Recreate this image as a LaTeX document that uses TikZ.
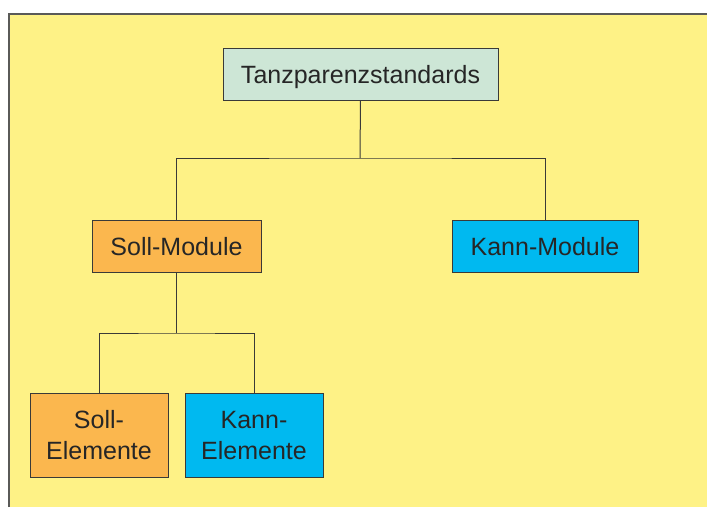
\documentclass[tikz,border=0pt]{standalone}
\usepackage{fontspec}
\setmainfont{Liberation Sans}
\definecolor{bgyellow}{HTML}{FEF286}
\definecolor{framegray}{HTML}{5A5A58}
\definecolor{rootgreen}{HTML}{CDE6D6}
\definecolor{sollorange}{HTML}{FBB74E}
\definecolor{kanncyan}{HTML}{00B9F0}
\definecolor{linegray}{HTML}{3A3A38}
\begin{document}
\begin{tikzpicture}[x=1pt,y=-1pt,
  box/.style={draw=linegray,line width=1pt,rectangle,inner sep=0pt,align=center,
    font=\fontsize{25}{31}\selectfont,text=black!85},
  conn/.style={draw=linegray,line width=1pt}]
\useasboundingbox (0,0) rectangle (707,507);
\fill[bgyellow] (9,14) rectangle (707,507);
\draw[framegray,line width=1.6pt] (9,507) -- (9,14) -- (707,14);
\node[box,fill=rootgreen,minimum width=275pt,minimum height=52pt,text depth=0pt] (root) at (360.5,74) {Tanzparenzstandards};
\node[box,fill=sollorange,minimum width=169pt,minimum height=52pt] (sollm) at (176.5,246.5) {Soll-Module};
\node[box,fill=kanncyan,minimum width=186pt,minimum height=52pt] (kannm) at (545,246.5) {Kann-Module};
\node[box,fill=sollorange,minimum width=138pt,minimum height=84pt] (solle) at (99,435.5) {Soll-\\Elemente};
\node[box,fill=kanncyan,minimum width=138pt,minimum height=84pt] (kanne) at (254,435.5) {Kann-\\Elemente};
\coordinate (j1) at (360,158);
\coordinate (j2) at (176.5,333);
\draw[conn] (root.south) -- (j1);
\draw[conn] (sollm.north) |- (j1) -| (kannm.north);
\draw[conn] (sollm.south) -- (j2);
\draw[conn] (solle.north) |- (j2) -| (kanne.north);
\end{tikzpicture}
\end{document}
